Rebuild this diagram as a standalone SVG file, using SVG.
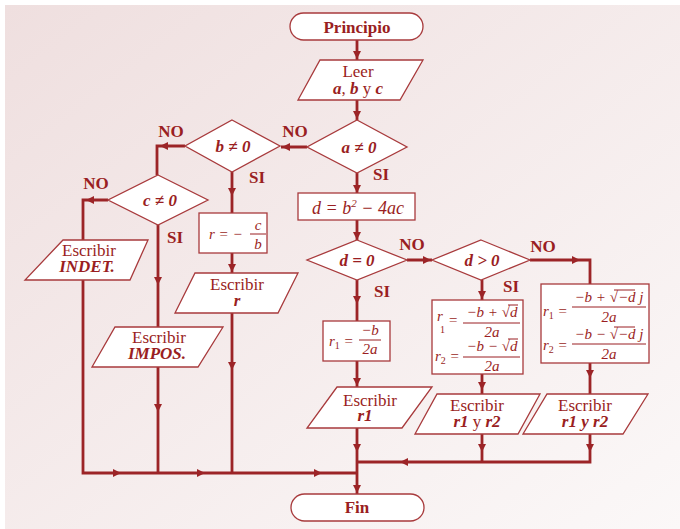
<svg xmlns="http://www.w3.org/2000/svg" xmlns:xlink="http://www.w3.org/1999/xlink" width="680" height="529" viewBox="0 0 680 529" font-family="'Liberation Serif', 'DejaVu Serif', serif">
<style>
.ln{stroke:#9c2427;stroke-width:2.8;fill:none}
.bx{fill:#fff;stroke:#a83a3c;stroke-width:1.3}
.fb{stroke:#9a1e22;stroke-width:1;fill:none}
.ah{fill:#9c2427}
text{font-family:'Liberation Serif','DejaVu Serif',serif;fill:#9a1e22;font-size:17px}
.c{text-anchor:middle}
.b{font-weight:bold}
.i{font-style:italic}
.bi{font-weight:bold;font-style:italic}
.f{font-style:italic;font-size:15px}
.sub{font-size:10px;font-style:normal}
</style>
<defs>
<linearGradient id="bg" x1="0" y1="0" x2="1" y2="1">
<stop offset="0" stop-color="#efdfdf"/>
<stop offset="1" stop-color="#fbf8f8"/>
</linearGradient>
<path id="ah" d="M0,0 L-8,-4 L-8,4 Z"/>
</defs>
<rect x="0" y="0" width="680" height="529" fill="#fff"/>
<rect x="5" y="5" width="675" height="524" fill="url(#bg)"/>

<g id="connectors">
<path class="ln" d="M357,40V60 M357,100V120 M307,147H281 M357,173V193 M185,146H157V175 M232,172V213 M108,200H83V473H357 M158,225V473 M232,253V273 M232,313V473 M357,220V240 M407,260H432 M357,280V321 M357,361V387 M357,428V494 M482,280V300 M530,260H590V284 M482,374V394 M590,363V394 M482,434V462 M590,434V462H357"/>
<g class="ah">
<use xlink:href="#ah" transform="translate(357,59) rotate(90)"/>
<use xlink:href="#ah" transform="translate(357,119) rotate(90)"/>
<use xlink:href="#ah" transform="translate(282,147) rotate(180)"/>
<use xlink:href="#ah" transform="translate(357,193) rotate(90)"/>
<use xlink:href="#ah" transform="translate(160,146) rotate(180)"/>
<use xlink:href="#ah" transform="translate(232,196) rotate(90)"/>
<use xlink:href="#ah" transform="translate(86,200) rotate(180)"/>
<use xlink:href="#ah" transform="translate(158,285) rotate(90)"/>
<use xlink:href="#ah" transform="translate(158,412) rotate(90)"/>
<use xlink:href="#ah" transform="translate(232,272) rotate(90)"/>
<use xlink:href="#ah" transform="translate(232,370) rotate(90)"/>
<use xlink:href="#ah" transform="translate(121,473)"/>
<use xlink:href="#ah" transform="translate(205,473)"/>
<use xlink:href="#ah" transform="translate(322,473)"/>
<use xlink:href="#ah" transform="translate(357,240) rotate(90)"/>
<use xlink:href="#ah" transform="translate(431,260)"/>
<use xlink:href="#ah" transform="translate(357,304) rotate(90)"/>
<use xlink:href="#ah" transform="translate(357,386) rotate(90)"/>
<use xlink:href="#ah" transform="translate(357,452) rotate(90)"/>
<use xlink:href="#ah" transform="translate(357,493) rotate(90)"/>
<use xlink:href="#ah" transform="translate(482,299) rotate(90)"/>
<use xlink:href="#ah" transform="translate(580,260)"/>
<use xlink:href="#ah" transform="translate(482,390) rotate(90)"/>
<use xlink:href="#ah" transform="translate(590,378) rotate(90)"/>
<use xlink:href="#ah" transform="translate(482,452) rotate(90)"/>
<use xlink:href="#ah" transform="translate(590,452) rotate(90)"/>
<use xlink:href="#ah" transform="translate(400,462) rotate(180)"/>
</g>
<text class="b c" x="295" y="137">NO</text>
<text class="b c" x="381" y="180">SI</text>
<text class="b c" x="171" y="137">NO</text>
<text class="b c" x="257" y="183">SI</text>
<text class="b c" x="96" y="189">NO</text>
<text class="b c" x="175" y="243">SI</text>
<text class="b c" x="412" y="250">NO</text>
<text class="b c" x="382" y="297">SI</text>
<text class="b c" x="543" y="252">NO</text>
<text class="b c" x="511" y="292">SI</text>
</g>

<g id="principio">
<rect class="bx" x="290" y="13" width="133" height="27" rx="13.5"/>
<text class="b c" x="357" y="33">Principio</text>
</g>
<g id="leer">
<polygon class="bx" points="320,60 423,60 400,100 298,100"/>
<text class="c" x="358" y="77">Leer</text>
<text class="c" x="358" y="94"><tspan class="bi">a</tspan>, <tspan class="bi">b</tspan> y <tspan class="bi">c</tspan></text>
</g>
<g id="a-ne-0">
<polygon class="bx" points="357,120 407,147 357,173 307,147"/>
<text class="bi c" x="359" y="153">a ≠ 0</text>
</g>
<g id="b-ne-0">
<polygon class="bx" points="232,120 280,146 232,172 185,146"/>
<text class="bi c" x="233" y="152">b ≠ 0</text>
</g>
<g id="c-ne-0">
<polygon class="bx" points="158,175 208,200 158,225 108,200"/>
<text class="bi c" x="160" y="206">c ≠ 0</text>
</g>
<g id="indet">
<polygon class="bx" points="63,240 148,240 130,280 25,280"/>
<text class="c" x="89" y="256">Escribir</text>
<text class="bi c" x="87" y="272">INDET.</text>
</g>
<g id="impos">
<polygon class="bx" points="115,327 223,327 198,367 92,367"/>
<text class="c" x="159" y="343">Escribir</text>
<text class="bi c" x="157" y="359">IMPOS.</text>
</g>
<g id="r-formula">
<rect class="bx" x="199" y="213" width="68" height="40"/>
<text class="f" x="209" y="239">r = −</text>
<text class="f c" x="258" y="230">c</text>
<line class="fb" x1="250" y1="234" x2="266" y2="234"/>
<text class="f c" x="258" y="249">b</text>
</g>
<g id="escribir-r">
<polygon class="bx" points="195,273 298,273 278,313 175,313"/>
<text class="c" x="237" y="290">Escribir</text>
<text class="bi c" x="237" y="306">r</text>
</g>
<g id="d-formula">
<rect class="bx" x="298" y="193" width="117" height="27"/>
<text class="i c" x="358" y="214" style="font-size:18px">d = b<tspan dy="-7" style="font-size:11px">2</tspan><tspan dy="7"> − 4ac</tspan></text>
</g>
<g id="d-eq-0">
<polygon class="bx" points="357,240 407,260 357,280 307,260"/>
<text class="bi c" x="357" y="266">d = 0</text>
</g>
<g id="r1-formula">
<rect class="bx" x="323" y="321" width="67" height="40"/>
<text class="f" x="329" y="346">r<tspan class="sub" dy="3">1</tspan><tspan dy="-3"> =</tspan></text>
<text class="f c" x="370" y="335">−b</text>
<line class="fb" x1="359" y1="340" x2="381" y2="340"/>
<text class="f c" x="370" y="354">2a</text>
</g>
<g id="d-gt-0">
<polygon class="bx" points="481,240 530,260 481,280 432,260"/>
<text class="bi c" x="482" y="266">d &gt; 0</text>
</g>
<g id="real-roots">
<rect class="bx" x="432" y="300" width="91" height="74"/>
<text class="f" x="437" y="321">r</text>
<text class="sub" x="440" y="333">1</text>
<text class="f" x="448" y="325">=</text>
<text class="f c" x="492" y="317">−b + √d</text>
<line class="fb" x1="508" y1="305" x2="518" y2="305"/>
<line class="fb" x1="463" y1="323" x2="520" y2="323"/>
<text class="f c" x="492" y="337">2a</text>
<text class="f" x="435" y="361">r<tspan class="sub" dy="3">2</tspan><tspan dy="-3"> =</tspan></text>
<text class="f c" x="492" y="351">−b − √d</text>
<line class="fb" x1="508" y1="339" x2="518" y2="339"/>
<line class="fb" x1="463" y1="357" x2="520" y2="357"/>
<text class="f c" x="492" y="371">2a</text>
</g>
<g id="complex-roots">
<rect class="bx" x="541" y="284" width="108" height="79"/>
<text class="f" x="543" y="316">r<tspan class="sub" dy="3">1</tspan><tspan dy="-3"> =</tspan></text>
<text class="f c" x="609" y="302">−b + √−d j</text>
<line class="fb" x1="614" y1="290" x2="635" y2="290"/>
<line class="fb" x1="572" y1="307" x2="646" y2="307"/>
<text class="f c" x="609" y="322">2a</text>
<text class="f" x="543" y="350">r<tspan class="sub" dy="3">2</tspan><tspan dy="-3"> =</tspan></text>
<text class="f c" x="609" y="339">−b − √−d j</text>
<line class="fb" x1="614" y1="327" x2="635" y2="327"/>
<line class="fb" x1="572" y1="344" x2="646" y2="344"/>
<text class="f c" x="609" y="359">2a</text>
</g>
<g id="escribir-r1">
<polygon class="bx" points="337,387 432,387 402,428 307,428"/>
<text class="c" x="370" y="406">Escribir</text>
<text class="bi c" x="365" y="421">r1</text>
</g>
<g id="escribir-r1-r2-real">
<polygon class="bx" points="437,394 540,394 518,434 415,434"/>
<text class="c" x="477" y="411">Escribir</text>
<text class="c" x="477" y="427"><tspan class="bi">r1</tspan> y <tspan class="bi">r2</tspan></text>
</g>
<g id="escribir-r1-r2-complex">
<polygon class="bx" points="547,394 648,394 623,434 523,434"/>
<text class="c" x="585" y="411">Escribir</text>
<text class="bi c" x="585" y="427">r1 y r2</text>
</g>
<g id="fin">
<rect class="bx" x="291" y="494" width="133" height="27" rx="13.5"/>
<text class="b c" x="357" y="513">Fin</text>
</g>
</svg>
